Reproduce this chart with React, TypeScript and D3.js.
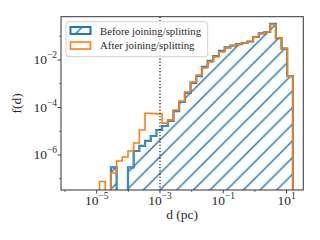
import * as d3 from 'd3';

// histogram: 34 log-spaced bins in d (pc)
const nBins = 34;
const logEdgeMin = -4.91;
const logEdgeMax = 1.2;

// f(d) per bin (0 = empty bin)
const before = [
  0, 0, 3.0e-7, 0, 0, 3.0e-7, 1.47e-6, 2.4e-6, 3.9e-6, 6.3e-6,
  1.13e-5, 1.66e-5, 2.7e-5, 7.1e-5, 1.7e-4, 4.1e-4, 1.08e-3, 2.1e-3, 5.1e-3, 9.1e-3,
  1.47e-2, 2.4e-2, 3.4e-2, 4.0e-2, 4.7e-2, 5.2e-2, 6.0e-2, 9.3e-2, 0.131, 0.151,
  0.33, 0.084, 0.030, 2.1e-3,
];
const after = [
  7.7e-8, 0, 1.75e-7, 5.6e-7, 8.2e-7, 1.47e-6, 3.2e-6, 1.13e-5, 5.7e-5, 5.6e-5,
  5.3e-5, 2.2e-5, 3.0e-5, 7.9e-5, 1.88e-4, 4.5e-4, 1.19e-3, 2.3e-3, 4.6e-3, 8.2e-3,
  1.34e-2, 2.17e-2, 3.2e-2, 3.9e-2, 4.5e-2, 5.2e-2, 6.0e-2, 9.3e-2, 0.131, 0.151,
  0.313, 0.084, 0.030, 2.1e-3,
];
const seriesLabels = ['Before joining/splitting', 'After joining/splitting'];

const xTickExps = [-5, -3, -1, 1];
const xMinorExps = [-6, -4, -2, 0];
const yTickExps = [-6, -4, -2];
const yMinorExps = [-7, -5, -3, -1];
const cutoff = 1e-3;

const W = 320;
const H = 240;
const left = 61, right = 303.3, top = 16.7, bottom = 190;
const BLUE = '#1f77b4';
const ORANGE = '#ff7f0e';
const INK = '#2a2a2a';
const txt = { fontFamily: 'Liberation Serif, DejaVu Serif, serif' };

const App = () => {
  const x = d3.scaleLog().domain([10 ** -6.128, 10 ** 1.528]).range([left, right]);
  const y = d3.scaleLog().domain([10 ** -7.474, 10 ** -0.177]).range([bottom, top]);

  const edges = d3.range(nBins + 1).map(i => 10 ** (logEdgeMin + (i * (logEdgeMax - logEdgeMin)) / nBins));

  const below = bottom + 6;
  const stepPts = (vals: number[]) => {
    const pts: [number, number][] = [[x(edges[0]), below]];
    vals.forEach((v, i) => {
      const yy = v > 0 ? y(v) : below;
      pts.push([x(edges[i]), yy], [x(edges[i + 1]), yy]);
    });
    pts.push([x(edges[nBins]), below]);
    return pts;
  };
  const line = d3.line<[number, number]>();
  const bluePath = line(stepPts(before)) ?? '';
  const orangePath = line(stepPts(after)) ?? '';

  const hs = 16.67;
  const hatchD = `M0,${hs} L${hs},0 M-4,4 L4,-4 M${hs - 4},${hs + 4} L${hs + 4},${hs - 4}`;

  const sup = (e: number) => (e < 0 ? '\u2212' + Math.abs(e) : String(e));

  return (
    <svg width={W} height={H} style={{ position: 'absolute', left: 0, top: 0, background: '#fff' }}>
      <defs>
        <clipPath id="plot">
          <rect x={left} y={top} width={right - left} height={bottom - top} />
        </clipPath>
        <pattern id="hatch" patternUnits="userSpaceOnUse" width={hs} height={hs}>
          <path d={hatchD} stroke={BLUE} strokeWidth={1.4} />
        </pattern>
        <pattern id="hatchLeg" patternUnits="userSpaceOnUse" width={hs} height={hs} x={76}>
          <path d={hatchD} stroke={BLUE} strokeWidth={1.4} />
        </pattern>
      </defs>

      <g clipPath="url(#plot)">
        <path d={bluePath + 'Z'} fill="url(#hatch)" stroke="none" />
        <path d={bluePath} fill="none" stroke={BLUE} strokeWidth={2.2} />
        <path d={bluePath} fill="none" stroke="#6aa6d3" strokeWidth={0.7} />
        <path d={orangePath} fill="none" stroke={ORANGE} strokeWidth={1.6} />
        <line x1={x(cutoff)} x2={x(cutoff)} y1={top} y2={bottom} stroke="#000" strokeWidth={1.1} strokeDasharray="1.2,2" />
      </g>

      {/* axes frame */}
      <rect x={left} y={top} width={right - left} height={bottom - top} fill="none" stroke="#333" strokeWidth={1} />

      {/* x ticks */}
      {xTickExps.map(e => (
        <g key={'xt' + e}>
          <line x1={x(10 ** e)} x2={x(10 ** e)} y1={bottom} y2={bottom + 3.5} stroke="#333" strokeWidth={0.9} />
          <text x={x(10 ** e)} y={205} textAnchor="middle" fontSize={13.5} fill={INK} style={txt}>
            10<tspan dy={-6} fontSize={9.5}>{sup(e)}</tspan>
          </text>
        </g>
      ))}
      {xMinorExps.map(e => (
        <line key={'xm' + e} x1={x(10 ** e)} x2={x(10 ** e)} y1={bottom} y2={bottom + 2} stroke="#333" strokeWidth={0.7} />
      ))}

      {/* y ticks */}
      {yTickExps.map(e => (
        <g key={'yt' + e}>
          <line x1={left - 3.5} x2={left} y1={y(10 ** e)} y2={y(10 ** e)} stroke="#333" strokeWidth={0.9} />
          <text x={57} y={y(10 ** e) + 4.5} textAnchor="end" fontSize={13.5} fill={INK} style={txt}>
            10<tspan dy={-6} fontSize={9.5}>{sup(e)}</tspan>
          </text>
        </g>
      ))}
      {yMinorExps.map(e => (
        <line key={'ym' + e} x1={left - 2} x2={left} y1={y(10 ** e)} y2={y(10 ** e)} stroke="#333" strokeWidth={0.7} />
      ))}

      {/* axis labels */}
      <text x={(left + right) / 2} y={219} textAnchor="middle" fontSize={13.5} fill={INK} style={txt}>d (pc)</text>
      <text transform={`translate(21,${(top + bottom) / 2}) rotate(-90)`} textAnchor="middle" fontSize={13.5} fill={INK} style={txt}>f(d)</text>

      {/* legend */}
      <g>
        <rect x={66} y={21.7} width={141.7} height={35} rx={3} fill="#fff" fillOpacity={0.8} stroke="#d0d0d0" strokeWidth={1} />
        <rect x={70.5} y={27} width={20} height={7} fill="url(#hatchLeg)" stroke={BLUE} strokeWidth={2} />
        <rect x={70.5} y={42} width={20} height={7} fill="none" stroke={ORANGE} strokeWidth={1.6} />
        <text x={100} y={34.5} fontSize={10.8} fill={INK} style={txt}>{seriesLabels[0]}</text>
        <text x={100} y={49} fontSize={10.8} fill={INK} style={txt}>{seriesLabels[1]}</text>
      </g>
    </svg>
  );
};

export default App;
